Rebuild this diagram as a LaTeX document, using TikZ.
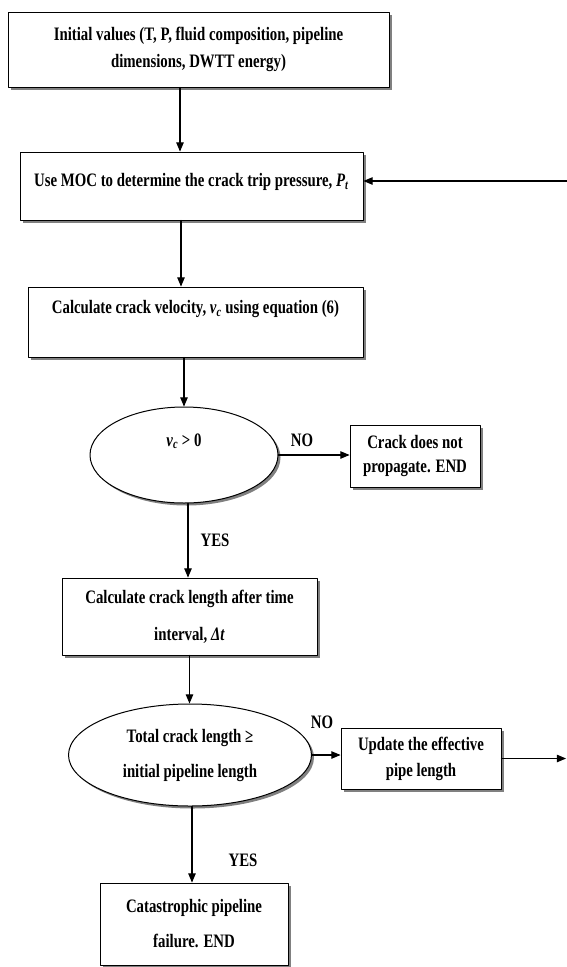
\documentclass[tikz,border=0pt]{standalone}
\usepackage{fontspec}
\setmainfont{Liberation Serif}[FakeStretch=0.78]
\usepackage{tikz}
\usetikzlibrary{
  shapes.geometric,
  shadows
}
\usetikzlibrary{arrows}
\newcommand{\itsub}[2]{\textit{#1}\textsubscript{\textit{#2}}}

\begin{document}
\begin{tikzpicture}[line cap=round,line join=round,>=triangle 45,x=1pt,y=-1pt,
  every node/.style={font=\bfseries\fontsize{19}{22}\selectfont},
  box/.style={draw,line width=1pt,fill=white,align=center,inner sep=2pt,
    drop shadow={shadow xshift=2.5pt,shadow yshift=-2.5pt,fill=black!50,opacity=1}},
  decision/.style={box,ellipse,inner sep=0pt},
  flow/.style={->,line width=1.1pt}]
\useasboundingbox (0,0) rectangle (567,967);
% boxes and decisions
\node[box,minimum width=381pt,minimum height=75pt] (init) at (198.5,49.5) {Initial values (T, P, fluid composition, pipeline\\[5pt]dimensions, DWTT energy)};
\node[box,minimum width=343pt,minimum height=68pt,text depth=12pt] (moc) at (191.5,186) {Use MOC to determine the crack trip pressure, \itsub{P}{t}};
\node[box,minimum width=335pt,minimum height=70pt,text depth=30pt] (vel) at (195.5,322) {Calculate crack velocity, \itsub{v}{c} using equation (6)};
\node[decision,minimum width=188pt,minimum height=96pt,text depth=30pt] (vpos) at (184,455) {\itsub{v}{c} {>} 0};
\node[box,minimum width=130pt,minimum height=62pt] (stop) at (415,456) {Crack does not\\[2pt]propagate. END};
\node[box,minimum width=255pt,minimum height=77pt] (len) at (189.5,616.5) {Calculate crack length after time\\[15pt]interval, \textit{Δt}};
\node[decision,minimum width=243pt,minimum height=102pt] (total) at (190,755) {Total crack length ≥\\[13pt]initial pipeline length};
\node[box,minimum width=160pt,minimum height=61pt] (upd) at (421,758.5) {Update the effective\\[4pt]pipe length};
\node[box,minimum width=188pt,minimum height=82pt] (fail) at (194,924) {Catastrophic pipeline\\[13pt]failure. END};
% branch labels
\node (no1) at (302,440) {NO};
\node (yes1) at (215,540) {YES};
\node (no2) at (322,722) {NO};
\node (yes2) at (243,860) {YES};
% loop ends at the right edge
\coordinate (loopout) at (566,758.5);
\coordinate (loopin) at (567,181);
% connectors
\draw[flow] ([xshift=-18.5pt]init.south) -- ([xshift=-18.5pt]init.south |- moc.north);
\draw[flow] ([xshift=-10.5pt]moc.south) -- ([xshift=-10.5pt]moc.south |- vel.north);
\draw[flow] ([xshift=-11.5pt]vel.south) -- ([xshift=-11.5pt]vel.south |- vpos.north);
\draw[flow] (vpos.east) -- (vpos.east -| stop.west);
\draw[flow] ([xshift=4pt]vpos.south) -- ([xshift=4pt]vpos.south |- len.north);
\draw[flow] (len.south) -- (len.south |- total.north);
\draw[flow] (total.east) -- (total.east -| upd.west);
\draw[flow] ([xshift=2pt]total.south) -- ([xshift=2pt]total.south |- fail.north);
\draw[flow] (upd.east) -- (loopout);
\draw[flow] (loopin) -- (loopin -| moc.east);
\end{tikzpicture}
\end{document}
